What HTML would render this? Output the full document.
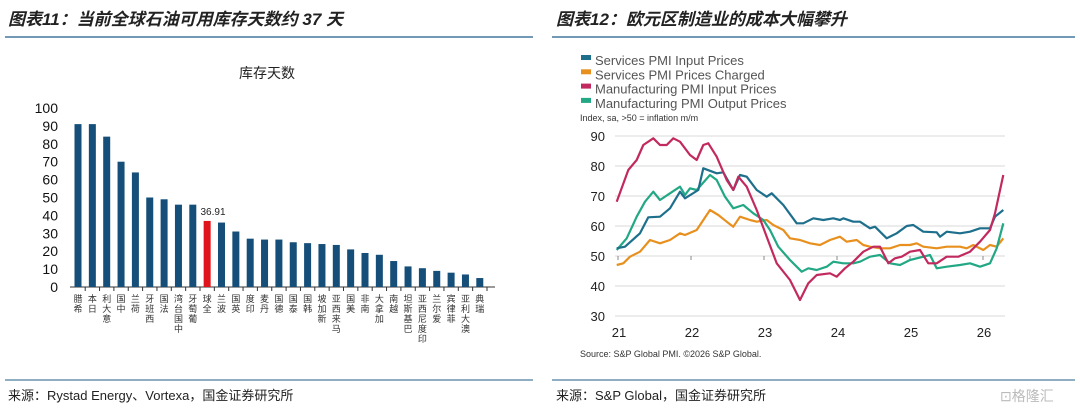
<!DOCTYPE html>
<html><head><meta charset="utf-8">
<style>
body{margin:0;width:1080px;height:409px;background:#fff;overflow:hidden;font-family:"Liberation Sans","Noto Sans CJK SC",sans-serif;}
svg{position:absolute;left:0;top:0}
</style></head><body>
<svg id="s" width="1080" height="409" xmlns="http://www.w3.org/2000/svg" font-family="Liberation Sans, Noto Sans CJK SC, sans-serif">
<text x="8" y="25" font-size="17" font-weight="bold" font-style="italic" fill="#222">图表11：当前全球石油可用库存天数约 37 天</text>
<text x="556" y="25" font-size="17" font-weight="bold" font-style="italic" fill="#222">图表12：欧元区制造业的成本大幅攀升</text>
<line x1="5" y1="37" x2="533" y2="37" stroke="#1f5c8a" stroke-width="1.2"/>
<line x1="552" y1="37" x2="1075" y2="37" stroke="#1f5c8a" stroke-width="1.2"/>
<line x1="5" y1="380" x2="533" y2="380" stroke="#1f5c8a" stroke-width="1"/>
<line x1="552" y1="380" x2="1075" y2="380" stroke="#1f5c8a" stroke-width="1"/>
<text x="8" y="400" font-size="13" fill="#222">来源：Rystad Energy、Vortexa，国金证券研究所</text>
<text x="556" y="400" font-size="13" fill="#222">来源：S&amp;P Global，国金证券研究所</text>
<text x="1000" y="401" font-size="14" fill="#bbb">⊡格隆汇</text>
<text x="267" y="78" font-size="14" fill="#222" text-anchor="middle">库存天数</text>
<g id="left"></g>
<g id="right"></g>
</svg>
<script>
var ns="http://www.w3.org/2000/svg";
function el(p,t,a,txt){var e=document.createElementNS(ns,t);for(var k in a)e.setAttribute(k,a[k]);if(txt!==undefined)e.textContent=txt;p.appendChild(e);return e;}
var L=document.getElementById('left');
for(var v=0;v<=100;v+=10){var y=287-v*1.79;el(L,'text',{x:58,y:y+5,'font-size':14,'text-anchor':'end',fill:'#111'},v);}
el(L,'line',{x1:70,y1:287,x2:495,y2:287,stroke:'#333','stroke-width':1});
var names=['希腊','日本','意大利','中国','荷兰','西班牙','法国','中国台湾','葡萄牙','全球','波兰','英国','印度','丹麦','德国','泰国','韩国','新加坡','马来西亚','美国','南非','加拿大','越南','巴基斯坦','印度尼西亚','爱尔兰','菲律宾','澳大利亚','瑞典'];
var vals=[91,91,84,70,64,50,49,46,46,36.91,36,31,27,26.5,26.5,25,24.5,24,23.5,21,19,18,14.5,11.5,10.5,9,8,7,5];
for(var i=0;i<29;i++){var cx=78+i*14.35;var h=vals[i]*1.79;
el(L,'rect',{x:cx-3.5,y:287-h,width:7,height:h,fill:i==9?'#e0141b':'#154e78'});
el(L,'line',{x1:cx+7.2,y1:287,x2:cx+7.2,y2:291,stroke:'#333'});
var n=names[i];for(var j=0;j<n.length;j++){el(L,'text',{x:cx,y:302+j*10,'font-size':9,'text-anchor':'middle',fill:'#333'},n[n.length-1-j]);}
}
el(L,'text',{x:213,y:215,'font-size':10,'text-anchor':'middle',fill:'#222'},'36.91');
var R=document.getElementById('right');
for(var v=30;v<=90;v+=10){var y=136+(90-v)*3;el(R,'line',{x1:615,y1:y,x2:1005,y2:y,stroke:'#ccc','stroke-width':0.8});el(R,'text',{x:605,y:y+5,'font-size':13,'text-anchor':'end',fill:'#222'},v);}
var yrs=[21,22,23,24,25,26];for(var i=0;i<6;i++){var x=618+i*73;el(R,'line',{x1:x,y1:256,x2:x,y2:260,stroke:'#888'});el(R,'text',{x:x+1,y:337,'font-size':13,'text-anchor':'middle',fill:'#222'},yrs[i]);}
var leg=[['#1d6f8c','Services PMI Input Prices'],['#e8901e','Services PMI Prices Charged'],['#c2295e','Manufacturing PMI Input Prices'],['#22a884','Manufacturing PMI Output Prices']];
for(var i=0;i<4;i++){var y=61+i*14.3;el(R,'rect',{x:581,y:y-6,width:10,height:5,fill:leg[i][0]});el(R,'text',{x:595,y:y+4,'font-size':13,fill:'#555'},leg[i][1]);}
el(R,'text',{x:580,y:121,'font-size':9,fill:'#333'},'Index, sa, >50 = inflation m/m');
el(R,'text',{x:580,y:357,'font-size':9,fill:'#333'},'Source: S&P Global PMI. ©2026 S&P Global.');
function line(pts,c){var s=[];for(var i=0;i<pts.length;i+=2)s.push((pts[i]/3+570).toFixed(1)+','+(pts[i+1]/3+120).toFixed(1));el(R,'polyline',{points:s.join(' '),fill:'none',stroke:c,'stroke-width':2.2,'stroke-linejoin':'round'});}
line([140,435,160,430,180,410,210,395,240,360,270,370,300,360,330,340,345,345,380,330,420,270,445,285,470,305,490,320,510,290,540,300,560,305,590,300,610,315,640,330,660,355,690,360,720,370,750,375,780,360,810,350,830,365,860,360,880,375,900,380,930,385,960,385,990,375,1020,375,1040,370,1060,380,1100,385,1130,380,1170,380,1190,385,1210,375,1240,390,1260,375,1280,380,1300,355],'#e8901e');
line([140,390,170,355,200,290,225,245,250,215,270,240,300,220,330,200,345,225,360,205,380,210,420,165,440,180,465,230,490,265,520,255,550,280,580,300,600,330,625,380,660,420,695,455,715,445,740,450,770,440,790,425,820,430,850,430,870,425,900,410,930,405,960,430,990,435,1020,420,1060,410,1080,405,1100,445,1130,440,1170,435,1200,430,1230,440,1260,430,1280,385,1300,310],'#22a884');
line([140,385,165,380,210,340,235,292,270,290,300,265,330,215,345,235,385,210,400,145,440,160,460,157,490,210,510,165,530,170,560,210,590,230,605,220,640,255,680,310,700,310,730,295,760,300,790,295,810,300,820,295,850,305,870,305,900,325,915,320,950,355,980,340,1010,318,1030,315,1060,335,1100,337,1110,350,1130,335,1170,340,1200,335,1230,325,1260,325,1275,290,1300,270],'#1d6f8c');
line([140,245,175,150,200,120,220,75,250,55,270,75,290,75,310,55,330,65,360,105,380,120,400,75,415,70,440,110,470,180,490,210,505,170,530,200,560,270,590,350,620,430,660,480,690,540,715,490,740,465,780,460,800,470,825,445,850,425,880,395,910,380,930,380,955,430,975,415,995,410,1020,395,1050,390,1075,430,1100,430,1130,410,1165,410,1200,395,1230,365,1260,330,1275,280,1300,165],'#c2295e');
</script>
</body></html>
